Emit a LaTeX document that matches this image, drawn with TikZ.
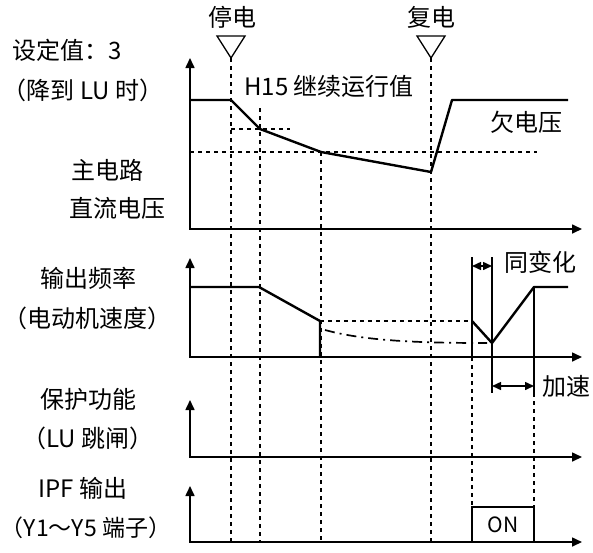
\documentclass[tikz,border=0pt]{standalone}
\usepackage{fontspec}
\setmainfont{Noto Sans CJK SC}
\usetikzlibrary{arrows.meta,positioning,calc}

\begin{document}
\begin{tikzpicture}[x=1pt, y=-1pt,
  lbl/.style={inner sep=0pt, font=\fontsize{24}{28}\selectfont},
  axes/.style={line width=1.6pt, {Triangle[width=9pt,length=10pt]}-{Triangle[width=9pt,length=10pt]}},
  wave/.style={line width=2.4pt, line join=round},
  guide/.style={line width=1.8pt, dash pattern=on 4pt off 4pt},
  level/.style={line width=1.5pt, dash pattern=on 4pt off 4pt},
  tick/.style={line width=1.5pt},
  span/.style={line width=1.5pt, {Triangle[width=8pt,length=9pt]}-{Triangle[width=8pt,length=9pt]}},
  eventmark/.style={line width=1.3pt, line join=miter}
]
\useasboundingbox (0,0) rectangle (593,552);

% Labels on the left
\node[lbl] (setval) at (67,50) {设定值：3};
\node[lbl] (setlu) at (83,90) {（降到 LU 时）};
\node[lbl] (dc1) at (107,170) {主电路};
\node[lbl] (dc2) at (117,208) {直流电压};
\node[lbl] (fo1) at (88,278) {输出频率};
\node[lbl] (fo2) at (87,318) {（电动机速度）};
\node[lbl] (pr1) at (88,399) {保护功能};
\node[lbl] (pr2) at (88,438) {（LU 跳闸）};
\node[lbl] (ipf1) at (83,488) {IPF 输出};
\node[lbl, font=\fontsize{23}{28}\selectfont] (ipf2) at (86,528) {（Y1～Y5 端子）};

% Events
\node[lbl] (off) at (232,17) {停电};
\node[lbl] (on) at (431,17) {复电};
\draw[eventmark] (217,36) -- (245,36) -- (231,58) -- cycle;
\draw[eventmark] (417,36) -- (445,36) -- (431,58) -- cycle;

% Time guides
\draw[guide] (231,58) -- (231,541);
\draw[guide] (260,108) -- (260,541);
\draw[guide] (321,152) -- (321,541);
\draw[guide] (431,58) -- (431,541);
\draw[guide] (472,357) -- (472,507);
\draw[guide] (534,393) -- (534,507);

% Axes
\draw[axes] (190,58) |- (582,229);
\draw[axes] (190,258) |- (582,357);
\draw[axes] (190,400) |- (582,457);
\draw[axes] (190,486) |- (582,542);

% DC bus voltage
\draw[level] (231,129) -- (290,129);
\draw[level] (190,152) -- (537,152);
\draw[wave] (190,100) -- (231,100) -- (260,129) -- (321,152) -- (431,172) -- (452,100) -- (568,100);
\node[lbl] (h15) at (329,86) {H15 继续运行值};
\node[lbl] (uv) at (526,122) {欠电压};

% Output frequency
\draw[level] (320,321) -- (472,321);
\draw[wave, dash pattern=on 10pt off 5pt on 2pt off 5pt, line width=1.7pt]
  (325,330) .. controls (365,341) and (420,343) .. (487,343);
\draw[wave] (190,287) -- (259,287) -- (320,321) -- (320,357);
\draw[wave] (472,321) -- (492,343) -- (534,287) -- (568,287);
\draw[tick] (472,257) -- (472,357);
\draw[tick] (492,257) -- (492,393);
\draw[tick] (534,287) -- (534,393);

\coordinate (syA) at (472,266);
\coordinate (syB) at (492,266);
\coordinate (acA) at (492,386);
\coordinate (acB) at (534,386);
\draw[span] (syA) -- (syB);
\draw[span] (acA) -- (acB);
\node[lbl] (sync) at (540,262) {同变化};
\node[lbl] (accel) at (566,386) {加速};

% IPF output
\draw[wave, line width=2.2pt, line join=miter] (472,542) |- (534,507) -- (534,542);
\node[lbl, font=\fontsize{21}{24}\selectfont] (onlbl) at (503,525) {ON};

\end{tikzpicture}
\end{document}
